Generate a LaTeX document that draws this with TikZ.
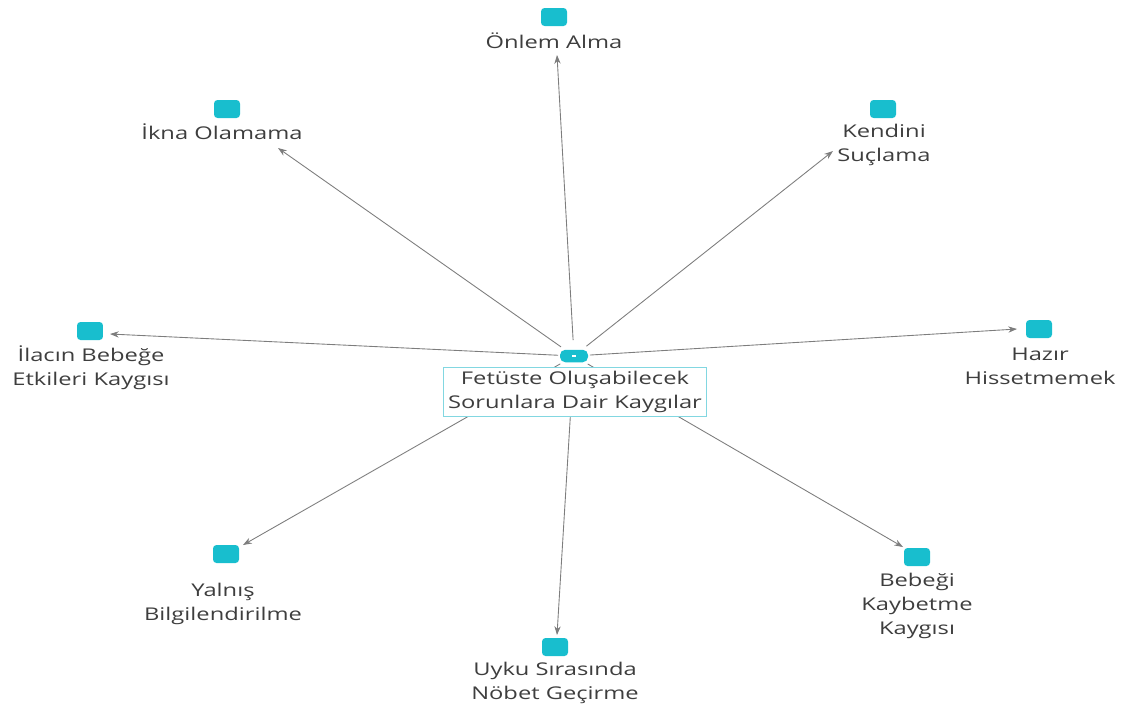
\documentclass[tikz,border=0pt]{standalone}
\usepackage{fontspec}
\setmainfont{Open Sans}
\usetikzlibrary{arrows.meta}
\definecolor{kod}{RGB}{24,190,206}
\definecolor{kenar}{RGB}{130,215,225}
\definecolor{yazi}{RGB}{62,62,62}
\definecolor{ok}{RGB}{125,125,125}
\begin{document}
\begin{tikzpicture}[x=0.02cm,y=-0.02cm,
    icon/.style={fill=kod,rounded corners=2pt,minimum width=0.52cm,minimum height=0.36cm,inner sep=0pt},
    lbl/.style={text=yazi,font=\fontsize{10}{13.5}\selectfont,align=center,xscale=1.35,inner sep=1pt},
    link/.style={draw=ok,line width=0.5pt,-{Stealth[length=5pt,width=3.6pt]}}]
    \useasboundingbox (0,0) rectangle (1121,711);

    % Alt kodlar
    \node[icon] (onlem-i) at (554,17) {};
    \node[lbl] (onlem) at (554,41) {Önlem Alma};
    \node[icon] (ikna-i) at (227,109) {};
    \node[lbl] (ikna) at (222,132) {İkna Olamama};
    \node[icon] (kendini-i) at (883,109) {};
    \node[lbl] (kendini) at (884,145) {Kendini\\Suçlama};
    \node[icon] (ilacin-i) at (90,331) {};
    \node[lbl] (ilacin) at (91,368) {İlacın Bebeğe\\Etkileri Kaygısı};
    \node[icon] (hazir-i) at (1039,329) {};
    \node[lbl] (hazir) at (1040,366) {Hazır\\Hissetmemek};
    \node[icon] (yalnis-i) at (226,554) {};
    \node[lbl] (yalnis) at (223,604) {Yalnış\\Bilgilendirilme};
    \node[icon] (uyku-i) at (555,647) {};
    \node[lbl] (uyku) at (555,683) {Uyku Sırasında\\Nöbet Geçirme};
    \node[icon] (bebegi-i) at (917,557) {};
    \node[lbl] (bebegi) at (917,606) {Bebeği\\Kaybetme\\Kaygısı};

    % Ok uçları
    \coordinate (onlem-in) at (557,55);
    \coordinate (ikna-in) at (278,148);
    \coordinate (kendini-in) at (833,151);
    \coordinate (ilacin-in) at (110,334);
    \coordinate (hazir-in) at (1017,329);
    \coordinate (yalnis-in) at (243,545);
    \coordinate (uyku-in) at (557,635);
    \coordinate (bebegi-in) at (903,547);

    % Oklar
    \node[circle,minimum size=0.62cm,inner sep=0pt] (merkez) at (574,356) {};
    \foreach \k in {onlem,ikna,kendini,ilacin,hazir,yalnis,uyku,bebegi}
        \draw[link] (merkez) -- (\k-in);

    % Ana kod
    \node[lbl,draw=kenar,fill=white,line width=0.6pt,inner xsep=2pt,inner ysep=2pt] (ana) at (575,392)
        {Fetüste Oluşabilecek\\Sorunlara Dair Kaygılar};
    \node[fill=kod,rounded corners=3pt,minimum width=0.56cm,minimum height=0.25cm,inner sep=0pt] (etiket) at (574,356) {};
    \node[fill=white,minimum width=0.07cm,minimum height=0.05cm,inner sep=0pt] (nokta) at (etiket) {};
\end{tikzpicture}
\end{document}
